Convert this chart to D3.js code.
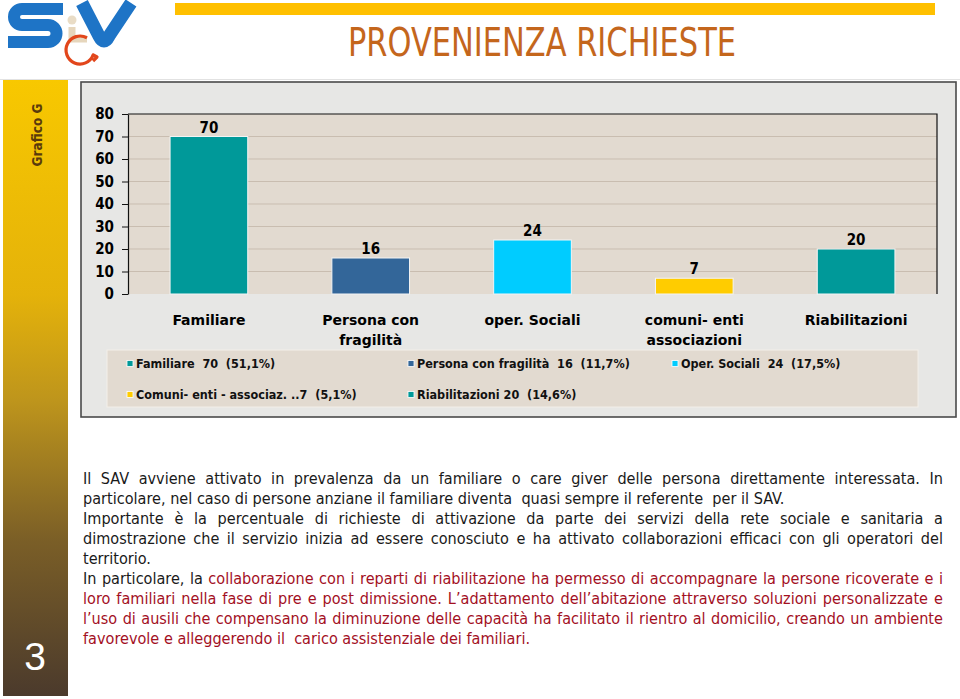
<!DOCTYPE html>
<html>
<head>
<meta charset="utf-8">
<script src="https://cdn.jsdelivr.net/npm/d3@7"></script>
<style>
  body { margin: 0; background: #fff; }
  svg text { white-space: pre; }
</style>
</head>
<body>
<svg id="page" width="960" height="699"></svg>
<script>
// ---- data ----
const categories = ["Familiare", "Persona con fragilità", "oper. Sociali", "comuni- enti associazioni", "Riabilitazioni"]
const categoryLines = [["Familiare"], ["Persona con", "fragilità"], ["oper. Sociali"], ["comuni- enti", "associazioni"], ["Riabilitazioni"]]
const values = [70, 16, 24, 7, 20]
const barColors = ["#009999", "#336699", "#00CCFF", "#FFCC00", "#009999"]
const legendLabels = [
    "Familiare  70  (51,1%)",
    "Persona con fragilità  16  (11,7%)",
    "Oper. Sociali  24  (17,5%)",
    "Comuni- enti - associaz. ..7  (5,1%)",
    "Riabilitazioni 20  (14,6%)"
]
const yTicks = [0, 10, 20, 30, 40, 50, 60, 70, 80]

const titleText = "PROVENIENZA RICHIESTE"
const sideLabel = "Grafico G"
const pageNumber = "3"

// paragraph lines: [text, colour key], justify flag
const paraLines = [
    { justify: true,  parts: [["Il SAV avviene attivato in prevalenza da un familiare o care giver delle persona direttamente interessata. In", "k"]] },
    { justify: false, parts: [["particolare, nel caso di persone anziane il familiare diventa  quasi sempre il referente  per il SAV.", "k"]] },
    { justify: true,  parts: [["Importante è la percentuale di richieste di attivazione da parte dei servizi della rete sociale e sanitaria a", "k"]] },
    { justify: true,  parts: [["dimostrazione che il servizio inizia ad essere conosciuto e ha  attivato collaborazioni efficaci con gli operatori del", "k"]] },
    { justify: false, parts: [["territorio.", "k"]] },
    { justify: true,  parts: [["In particolare, la", "k"], ["collaborazione con i reparti di riabilitazione ha permesso di accompagnare la persone ricoverate e i", "r"]] },
    { justify: true,  parts: [["loro familiari nella fase di pre e post dimissione. L’adattamento dell’abitazione attraverso soluzioni personalizzate e", "r"]] },
    { justify: true,  parts: [["l’uso di ausili che compensano la diminuzione delle capacità ha facilitato il rientro al domicilio, creando un ambiente", "r"]] },
    { justify: false, parts: [["favorevole e alleggerendo il  carico assistenziale dei familiari.", "r"]] }
]
const inkColors = { k: "#1a1a1a", r: "#a3101f" }

const condBold = "'DejaVu Sans Condensed', 'DejaVu Sans', sans-serif"
const bodyFont = "'DejaVu Sans Condensed', 'DejaVu Sans', sans-serif"

const svg = d3.select("#page")
const defs = svg.append("defs")

// ---- header ----
svg.append("rect").attr("x", 175).attr("y", 3).attr("width", 760).attr("height", 12).attr("fill", "#FFC000")

svg.append("text")
    .attr("x", 348).attr("y", 56)
    .attr("textLength", 388).attr("lengthAdjust", "spacingAndGlyphs")
    .style("font-family", "'DejaVu Sans Condensed', sans-serif")
    .style("font-size", "39px")
    .attr("fill", "#C4661C")
    .text(titleText)

svg.append("line").attr("x1", 0).attr("x2", 960).attr("y1", 79.5).attr("y2", 79.5)
    .attr("stroke", "#e2e2e2").attr("stroke-width", 1)

// logo
const logo = svg.append("g")
logo.append("path")
    .attr("d", "M 63 9 H 22 A 8 8 0 0 0 22 25 H 48 A 8.5 8.5 0 0 1 48 42 H 8")
    .attr("fill", "none").attr("stroke", "#1E74C6").attr("stroke-width", 12)
logo.append("path")
    .attr("d", "M 82 3 L 99 36 Q 104 46 109 36 L 131 3")
    .attr("fill", "none").attr("stroke", "#1E74C6").attr("stroke-width", 13).attr("stroke-linejoin", "round")
logo.append("circle").attr("cx", 72).attr("cy", 20).attr("r", 4.5).attr("fill", "#E9DCC6")
logo.append("path")
    .attr("d", "M 72 27 V 39 H 87")
    .attr("fill", "none").attr("stroke", "#E6D6BC").attr("stroke-width", 7)
logo.append("path")
    .attr("d", "M 87 37.9 A 14 14 0 1 0 93.2 54.8 L 97 57 L 93 61")
    .attr("fill", "none").attr("stroke", "#E2461B").attr("stroke-width", 3.2).attr("stroke-linejoin", "round")

// ---- left strip ----
const grad = defs.append("linearGradient").attr("id", "strip").attr("x1", 0).attr("x2", 0).attr("y1", 0).attr("y2", 1)
grad.append("stop").attr("offset", "0%").attr("stop-color", "#F8C800")
grad.append("stop").attr("offset", "35%").attr("stop-color", "#E4B20A")
grad.append("stop").attr("offset", "52%").attr("stop-color", "#BE951C")
grad.append("stop").attr("offset", "75%").attr("stop-color", "#7A5E27")
grad.append("stop").attr("offset", "100%").attr("stop-color", "#4B3A2C")
svg.append("rect").attr("x", 3).attr("y", 80).attr("width", 65).attr("height", 616).attr("fill", "url(#strip)")

svg.append("text")
    .attr("transform", "translate(42,135) rotate(-90)")
    .attr("text-anchor", "middle")
    .style("font-family", condBold).style("font-weight", "bold").style("font-size", "13.5px")
    .attr("fill", "#5A3A0C")
    .text(sideLabel)

svg.append("text")
    .attr("x", 35).attr("y", 670).attr("text-anchor", "middle")
    .style("font-family", "'Liberation Sans', sans-serif").style("font-size", "39px")
    .attr("fill", "#fff")
    .text(pageNumber)

// ---- chart frame ----
svg.append("rect").attr("x", 81).attr("y", 82).attr("width", 875).attr("height", 335)
    .attr("fill", "#e7e7e5").attr("stroke", "#4a4a4a").attr("stroke-width", 1.6)

const x = d3.scaleBand().domain(categories).range([128, 937]).paddingInner(0.52).paddingOuter(0.26)
const y = d3.scaleLinear().domain([0, 80]).range([294, 114])

svg.append("rect").attr("x", 128).attr("y", y(80)).attr("width", 937 - 128).attr("height", y(0) - y(80))
    .attr("fill", "#E2DAD0")

svg.append("g").selectAll("line")
    .data(yTicks.filter(t => t > 0 && t < 80))
    .join("line")
    .attr("x1", 128).attr("x2", 937)
    .attr("y1", d => y(d)).attr("y2", d => y(d))
    .attr("stroke", "#c9bdb0").attr("stroke-width", 1)

// top and right border of plot area
svg.append("path")
    .attr("d", `M128,${y(80)}H937V${y(0)}`)
    .attr("fill", "none").attr("stroke", "#111").attr("stroke-width", 1.2)

const yAxis = svg.append("g")
    .attr("transform", "translate(128,0)")
    .call(d3.axisLeft(y).tickValues(yTicks).tickSize(6).tickSizeOuter(0).tickPadding(8))
yAxis.select(".domain").attr("stroke", "#111").attr("stroke-width", 1.2)
yAxis.selectAll(".tick line").attr("stroke", "#111")
yAxis.selectAll(".tick text")
    .style("font-family", condBold).style("font-weight", "bold").style("font-size", "15px")
    .attr("fill", "#000")

svg.append("g").selectAll("rect")
    .data(values)
    .join("rect")
    .attr("x", (d, i) => x(categories[i]))
    .attr("y", d => y(d))
    .attr("width", x.bandwidth())
    .attr("height", d => y(0) - y(d))
    .attr("fill", (d, i) => barColors[i])
    .attr("stroke", "#f4f4f4").attr("stroke-width", 1)

svg.append("g").selectAll("text")
    .data(values)
    .join("text")
    .attr("x", (d, i) => x(categories[i]) + x.bandwidth() / 2)
    .attr("y", d => y(d) - 4)
    .attr("text-anchor", "middle")
    .style("font-family", condBold).style("font-weight", "bold").style("font-size", "15px")
    .attr("fill", "#000")
    .text(d => d)

const catText = svg.append("g").selectAll("text")
    .data(categoryLines)
    .join("text")
    .attr("text-anchor", "middle")
    .style("font-family", "'DejaVu Sans', sans-serif").style("font-weight", "bold").style("font-size", "14px")
    .attr("fill", "#000")
catText.selectAll("tspan")
    .data((d, i) => d.map(line => ({ line, i })))
    .join("tspan")
    .attr("x", d => x(categories[d.i]) + x.bandwidth() / 2)
    .attr("y", (d, j) => 325 + j * 20)
    .text(d => d.line)

// ---- legend ----
svg.append("rect").attr("x", 107).attr("y", 350).attr("width", 811).attr("height", 57)
    .attr("fill", "#E2DAD0").attr("stroke", "#f3efe9").attr("stroke-width", 1)

const legendCols = [127, 408, 672]
const legendRows = [363.5, 394.5]
const legendItems = svg.append("g").selectAll("g")
    .data(legendLabels)
    .join("g")
    .attr("transform", (d, i) => `translate(${legendCols[i % 3]},${legendRows[Math.floor(i / 3)]})`)
legendItems.append("rect")
    .attr("x", 0).attr("y", -3).attr("width", 6).attr("height", 6)
    .attr("fill", (d, i) => barColors[i]).attr("stroke", "#fff").attr("stroke-width", 0.8)
legendItems.append("text")
    .attr("x", 9).attr("y", 4.5)
    .style("font-family", condBold).style("font-weight", "bold").style("font-size", "12.5px")
    .attr("fill", "#111")
    .text(d => d)

// ---- paragraph ----
// text is set at its real height, then squeezed sideways to the reference line widths
const textX = 83, textRight = 943, firstBase = 484, lineH = 20, bodySize = 15.5
const measure = svg.append("text").style("font-family", bodyFont).style("font-size", bodySize + "px")
const wordWidth = w => { measure.text(w); return measure.node().getComputedTextLength() }
const sx = (785 - textX) / wordWidth(paraLines[1].parts[0][0])
const localW = (textRight - textX) / sx

const para = svg.append("g")
    .attr("transform", `translate(${textX},0) scale(${sx},1)`)
    .style("font-family", bodyFont).style("font-size", bodySize + "px")
paraLines.forEach((ln, li) => {
    const base = firstBase + li * lineH
    if (ln.justify) {
        const words = ln.parts.flatMap(([t, c]) => t.split(/\s+/).filter(w => w).map(w => ({ w, c })))
        words.forEach(o => o.width = wordWidth(o.w))
        const gap = (localW - d3.sum(words, o => o.width)) / (words.length - 1)
        let cx = 0
        words.forEach(o => {
            para.append("text").attr("x", cx).attr("y", base).attr("fill", inkColors[o.c]).text(o.w)
            cx += o.width + gap
        })
    } else {
        const t = para.append("text").attr("x", 0).attr("y", base)
        ln.parts.forEach(([s, c]) => t.append("tspan").attr("fill", inkColors[c]).text(s))
    }
})
measure.remove()
</script>
</body>
</html>
